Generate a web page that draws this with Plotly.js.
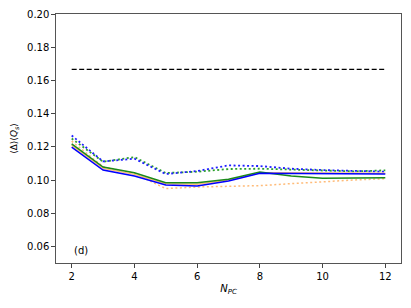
<!DOCTYPE html>
<html><head><meta charset="utf-8">
<script src="https://cdn.plot.ly/plotly-3.0.1.min.js"></script>
<style>html,body{margin:0;padding:0;background:#fff}</style>
</head><body><div id="chart" style="width:411px;height:308px"></div>
<script>
const nPC = [2,3,4,5,6,7,8,9,10,11,12];
const blueSolid   = [0.1198,0.1060,0.1024,0.0970,0.0964,0.0994,0.1040,0.1038,0.1036,0.1036,0.1036];
const orangeSolid = [0.1210,0.1070,0.1034,0.0978,0.0974,0.1000,0.1044,0.1042,0.1040,0.1040,0.1040];
const greenSolid  = [0.1218,0.1078,0.1044,0.0984,0.0984,0.1004,0.1048,0.1024,0.1010,0.1012,0.1014];
const orangeDot   = [0.1234,0.1080,0.1040,0.0948,0.0958,0.0962,0.0966,0.0978,0.0990,0.1000,0.1008];
const blueDot     = [0.1268,0.1112,0.1128,0.1036,0.1054,0.1088,0.1084,0.1068,0.1060,0.1055,0.1050];
const greenDot    = [0.1250,0.1110,0.1138,0.1042,0.1050,0.1066,0.1068,0.1063,0.1055,0.1052,0.1058];
const refX = [2,12];
const refY = [0.1667,0.1667];

const traces = [
  {x:nPC,y:orangeDot,mode:'lines',line:{color:'#ffbb78',width:1.5,dash:'2px,2.5px'}},
  {x:nPC,y:greenDot,mode:'lines',line:{color:'#2ca02c',width:1.8,dash:'2px,2.5px'}},
  {x:nPC,y:blueDot,mode:'lines',line:{color:'#1f1fff',width:1.8,dash:'2px,2.5px'}},
  {x:nPC,y:orangeSolid,mode:'lines',line:{color:'#ffbb78',width:1.5}},
  {x:nPC,y:greenSolid,mode:'lines',line:{color:'#1a8a1a',width:1.5}},
  {x:nPC,y:blueSolid,mode:'lines',line:{color:'#0000ff',width:1.5}},
  {x:refX,y:refY,mode:'lines',line:{color:'#000',width:1.3,dash:'5px,2.5px'}}
];
const axBase = {showgrid:false,zeroline:false,showline:true,mirror:true,linecolor:'#555',linewidth:1.2,
  ticks:'outside',ticklen:3.5,tickcolor:'#444',tickfont:{family:'DejaVu Sans',size:10,color:'#000'}};
const layout = {
  width:411,height:308,showlegend:false,
  margin:{l:56,r:10,t:14,b:45},
  paper_bgcolor:'#fff',plot_bgcolor:'#fff',
  xaxis:Object.assign({},axBase,{range:[1.5,12.5],tickvals:[2,4,6,8,10,12],
    title:{text:'<i>N</i><sub><i>PC</i></sub>',font:{family:'DejaVu Sans',size:10,color:'#000'},standoff:4}}),
  yaxis:Object.assign({},axBase,{range:[0.05,0.20],tickvals:[0.06,0.08,0.10,0.12,0.14,0.16,0.18,0.20],tickformat:'.2f',
    title:{text:'⟨Δ⟩⟨<i>Q</i><sub><i>s</i></sub>⟩',font:{family:'DejaVu Sans',size:9,color:'#000'},standoff:7}}),
  annotations:[{x:2,y:0.0575,xref:'x',yref:'y',text:'(d)',showarrow:false,xanchor:'left',
    font:{family:'DejaVu Sans',size:10,color:'#000'}}]
};
Plotly.newPlot('chart',traces,layout,{displayModeBar:false,staticPlot:true});
</script></body></html>
